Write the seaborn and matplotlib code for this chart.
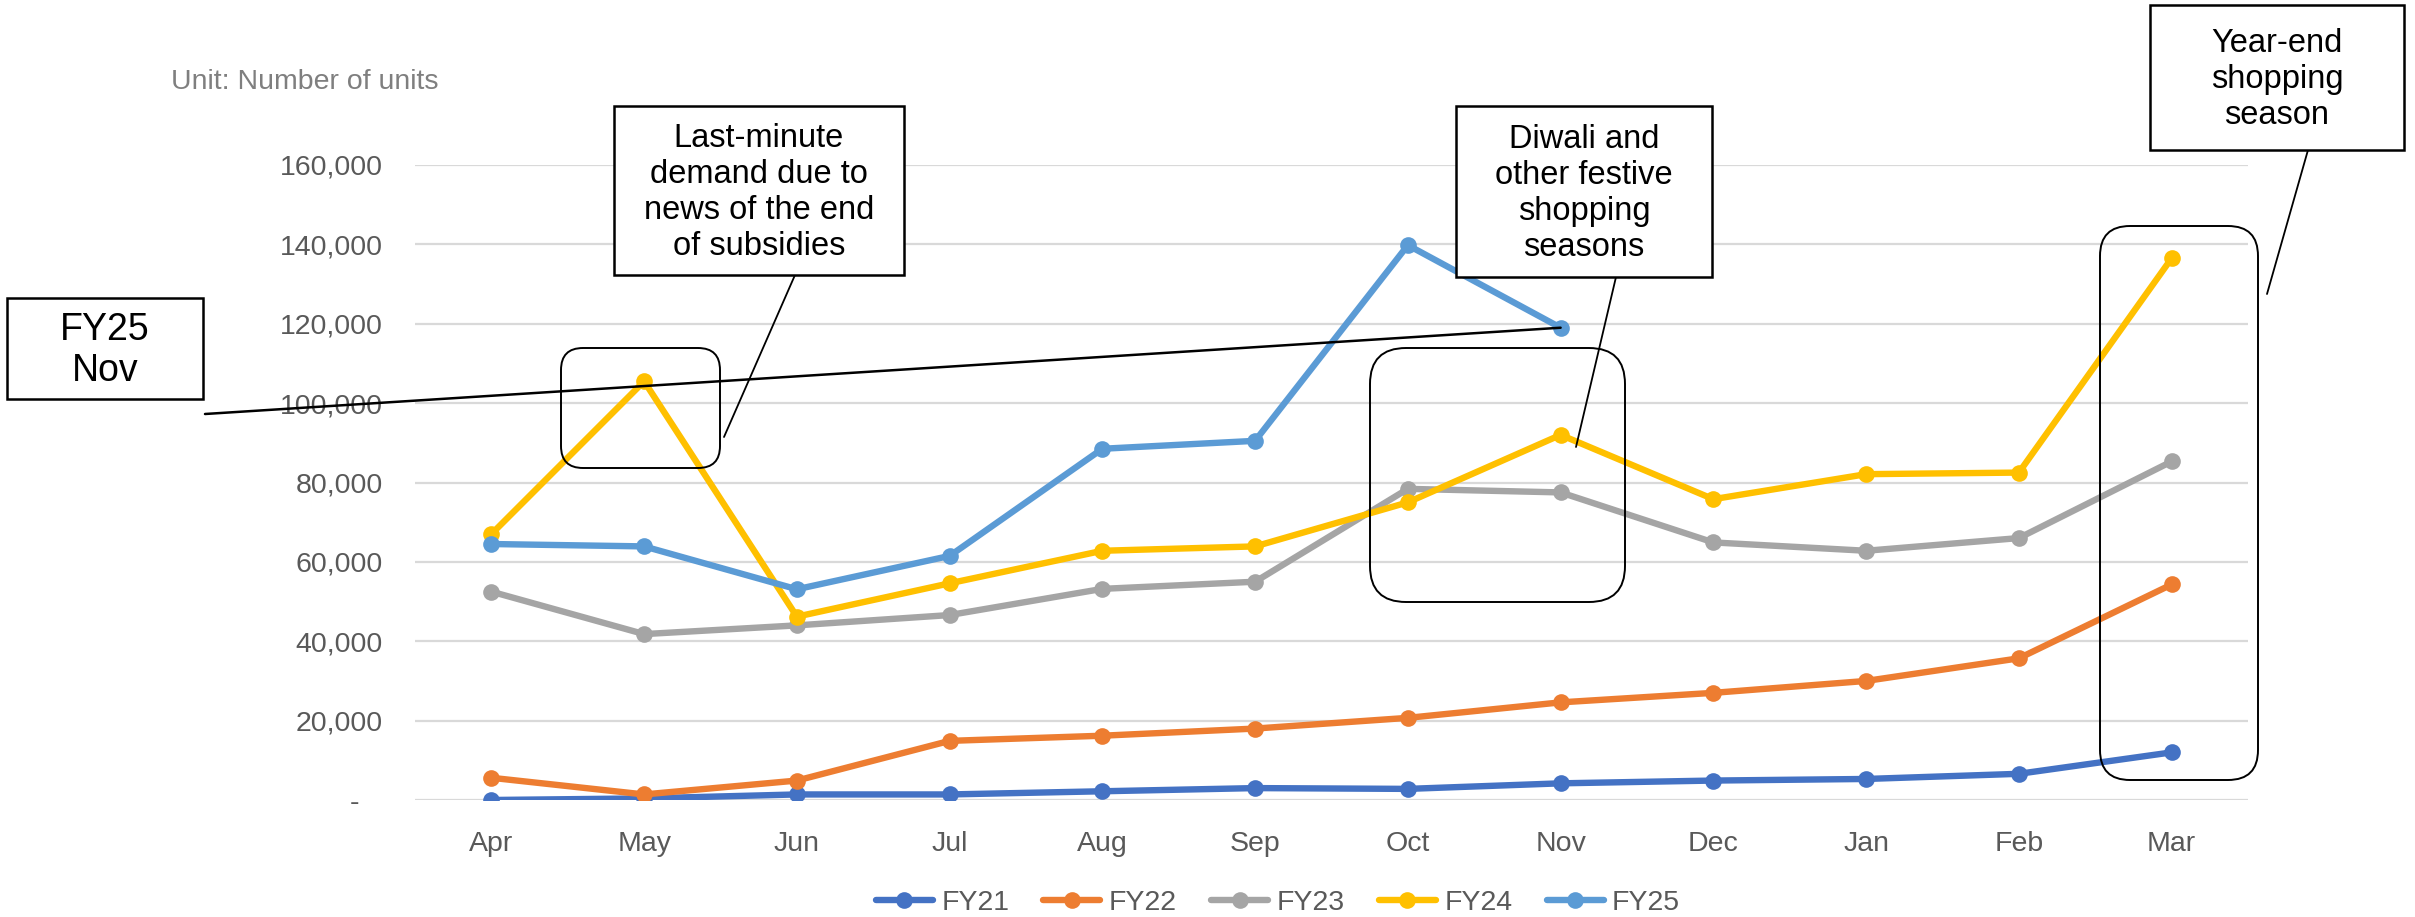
import numpy as np
import pandas as pd
import matplotlib
matplotlib.use("Agg")
import matplotlib.pyplot as plt
import seaborn as sns
from matplotlib.patches import Rectangle, FancyBboxPatch, ConnectionPatch
from matplotlib.lines import Line2D
from matplotlib.transforms import Affine2D
from matplotlib.ticker import FuncFormatter

# monthly sales (fiscal year Apr-Mar)
months = ["Apr", "May", "Jun", "Jul", "Aug", "Sep", "Oct", "Nov", "Dec", "Jan", "Feb", "Mar"]
fy21 = [0, 400, 1400, 1400, 2200, 3000, 2800, 4200, 4900, 5300, 6600, 12000]
fy22 = [5600, 1400, 4900, 14900, 16200, 18000, 20700, 24600, 27000, 30000, 35700, 54300]
fy23 = [52500, 41800, 44000, 46600, 53200, 55000, 78400, 77500, 64900, 62800, 66000, 85300]
fy24 = [67000, 105500, 46200, 54600, 62800, 63900, 75000, 92000, 75800, 82100, 82500, 136500]
fy25 = [64500, 63900, 53100, 61500, 88500, 90500, 139800, 119000, np.nan, np.nan, np.nan, np.nan]

series_names = ["FY21", "FY22", "FY23", "FY24", "FY25"]
series_colors = ["#4472C4", "#ED7D31", "#A5A5A5", "#FFC000", "#5B9BD5"]
yticks = [0, 20000, 40000, 60000, 80000, 100000, 120000, 140000, 160000]

rows = []
for name, vals in zip(series_names, [fy21, fy22, fy23, fy24, fy25]):
    for i, v in enumerate(vals):
        rows.append({"month": i, "units": v, "series": name})
df = pd.DataFrame(rows).dropna()

W, H = 2415, 917
sns.set_theme(style="white")
plt.rcParams["font.family"] = ["Liberation Sans", "DejaVu Sans"]

fig = plt.figure(figsize=(W / 100, H / 100), dpi=100)
ax = fig.add_axes([415 / W, 1 - 800 / H, (2248 - 415) / W, (800 - 165) / H])

sns.lineplot(data=df, x="month", y="units", hue="series", hue_order=series_names,
             palette=series_colors, marker="o", markersize=12, markeredgewidth=0,
             linewidth=4.6, ax=ax, sort=False)

ax.set_xlim(-0.5, 11.5)
ax.set_ylim(0, 160000)
ax.set_xticks(range(len(months)))
ax.set_xticklabels(months)
ax.set_yticks(yticks)
ax.yaxis.set_major_formatter(FuncFormatter(lambda v, p: f"{v:,.0f}" if v else "-   "))
ax.grid(axis="y", color="#D9D9D9", linewidth=1.6)
ax.set_axisbelow(True)
for s in ax.spines.values():
    s.set_visible(False)
ax.tick_params(axis="both", length=0, labelsize=20.5, labelcolor="#595959")
ax.tick_params(axis="x", pad=22)
ax.tick_params(axis="y", pad=23)
ax.set_xlabel("")
ax.set_ylabel("")

handles, labels = ax.get_legend_handles_labels()
ax.get_legend().remove()
fig.legend(handles, labels, loc="center", bbox_to_anchor=(1278 / W, 1 - 903 / H), ncol=5,
           frameon=False, fontsize=20.5, handlelength=2.0, handletextpad=0.3,
           columnspacing=1.2, labelcolor="#595959")

# pixel coordinates measured from the top-left corner of the image
pix = Affine2D().scale(1, -1).translate(0, H)

fig.text(171, 82, "Unit: Number of units", transform=pix, fontsize=20.5,
         color="#7F7F7F", ha="left", va="center")


def callout(x0, y0, x1, y1, text, size, spacing=1.2):
    fig.patches.append(Rectangle((x0, y0), x1 - x0, y1 - y0, transform=pix,
                                 facecolor="white", edgecolor="black", linewidth=1.8, zorder=5))
    fig.text((x0 + x1) / 2, (y0 + y1) / 2 + 2, text, transform=pix, fontsize=size,
             ha="center", va="center", linespacing=spacing, color="black", zorder=6)


def pointer(xa, ya, xb, yb):
    fig.lines.append(Line2D([xa, xb], [ya, yb], transform=pix, color="black", linewidth=1.3))


def highlight(x0, y0, x1, y1, r):
    fig.patches.append(FancyBboxPatch((x0, y0), x1 - x0, y1 - y0,
                                      boxstyle=f"round,pad=0,rounding_size={r}", transform=pix,
                                      facecolor="none", edgecolor="black", linewidth=1.4, zorder=4))


highlight(561, 348, 720, 468, 22)
highlight(1370, 348, 1625, 602, 36)
highlight(2100, 226, 2258, 780, 30)

callout(614, 106, 904, 275, "Last-minute\ndemand due to\nnews of the end\nof subsidies", 23.5)
pointer(795, 275, 724, 437)

callout(1456, 106, 1712, 277, "Diwali and\nother festive\nshopping\nseasons", 23.5)
pointer(1616, 277, 1576, 447)

callout(2150, 5, 2404, 150, "Year-end\nshopping\nseason", 23.5)
pointer(2308, 150, 2267, 294)

callout(7, 298, 203, 399, "FY25\nNov", 27, spacing=1.15)
con = ConnectionPatch(xyA=(205, 414), coordsA=pix, xyB=(7, fy25[7]), coordsB=ax.transData,
                      color="black", linewidth=1.8)
fig.add_artist(con)

fig.savefig("out.png", dpi=100)
